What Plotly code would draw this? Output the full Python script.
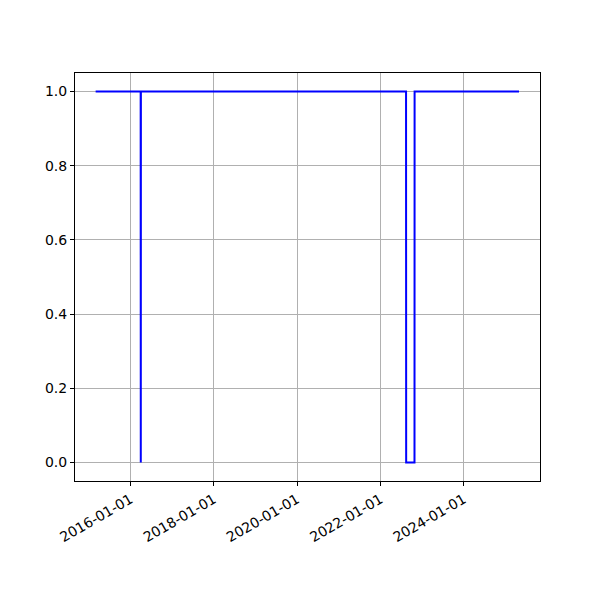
import plotly.graph_objects as go

dates = ["2015-03-01", "2016-03-30", "2016-03-31", "2016-04-01",
         "2022-08-14", "2022-08-15", "2022-10-27", "2022-10-28", "2025-05-01"]
values = [1, 1, 0, 1, 1, 0, 0, 1, 1]

tick_vals = ["2016-01-01", "2018-01-01", "2020-01-01", "2022-01-01", "2024-01-01"]
y_ticks = [0.0, 0.2, 0.4, 0.6, 0.8, 1.0]

fig = go.Figure()
fig.add_trace(go.Scatter(x=dates, y=values, mode="lines",
                         line=dict(color="blue", width=2), showlegend=False))

axis_common = dict(showline=True, linecolor="black", linewidth=1, mirror=True,
                   ticks="outside", ticklen=4, tickcolor="black",
                   showgrid=True, gridcolor="#b0b0b0", gridwidth=0.8, zeroline=False,
                   tickfont=dict(family="DejaVu Sans", size=14, color="black"))

fig.update_xaxes(type="date", tickvals=tick_vals, ticktext=tick_vals, tickangle=-30,
                 range=["2014-09-01", "2025-11-01"], automargin=False, **axis_common)
fig.update_yaxes(tickvals=y_ticks, ticktext=[f"{v:.1f}" for v in y_ticks],
                 range=[-0.05, 1.05], automargin=False, **axis_common)

fig.update_layout(width=600, height=600, plot_bgcolor="white", paper_bgcolor="white",
                  margin=dict(l=67, r=68, t=65, b=127),
                  font=dict(family="DejaVu Sans", size=14, color="black"))

fig.write_html("out.html")
